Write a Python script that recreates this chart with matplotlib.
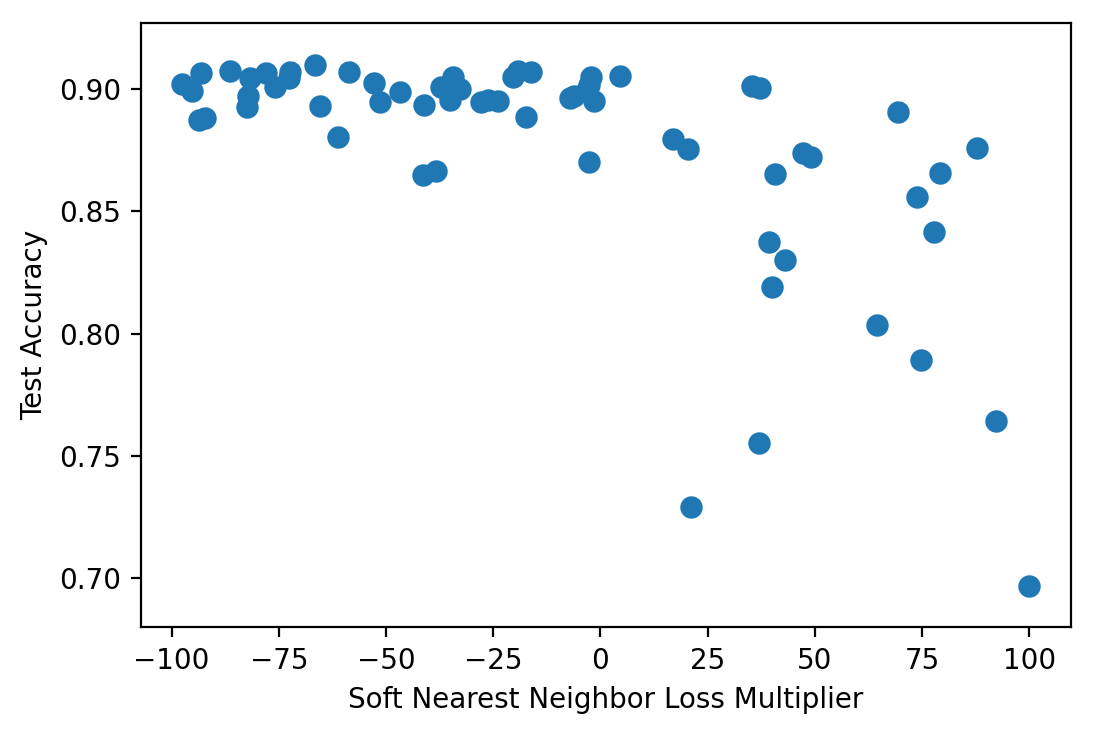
import matplotlib
matplotlib.use("Agg")
import matplotlib.pyplot as plt

multiplier = [
    -97.5, -95.3, -93.2, -93.6, -92.1, -86.3, -81.8, -78.1, -82.1, -82.5,
    -75.8, -72.5, -72.7, -66.6, -65.5, -61.2, -58.6, -52.8, -51.5, -46.8,
    -41.2, -41.4, -38.4, -37.3, -34.4, -35.2, -32.8,
    -27.9, -26.2, -23.9, -20.4, -19.2, -16.2, -17.4,
    -7.1, -6.2, -3.2, -2.6, -2.2, -1.5, -2.6, 4.55,
    16.8, 20.3, 21.0, 35.3, 37.1, 36.9, 39.4, 40.1, 40.7, 43.1, 47.3, 49.1,
    64.5, 69.3, 73.8, 74.7, 77.7, 79.1, 87.8, 92.1, 99.8,
]
accuracy = [
    0.9020, 0.8990, 0.9065, 0.8872, 0.8881, 0.9074, 0.9046, 0.9066, 0.8969, 0.8926,
    0.9009, 0.9069, 0.9044, 0.9097, 0.8930, 0.8804, 0.9068, 0.9025, 0.8947, 0.8988,
    0.8935, 0.8647, 0.8665, 0.9006, 0.9050, 0.8956, 0.9000,
    0.8946, 0.8955, 0.8952, 0.9050, 0.9071, 0.9068, 0.8884,
    0.8964, 0.8972, 0.8995, 0.9015, 0.9050, 0.8952, 0.8700, 0.9053,
    0.8796, 0.8754, 0.7290, 0.9012, 0.9003, 0.7552, 0.8373, 0.8189, 0.8651, 0.8300, 0.8737, 0.8723,
    0.8034, 0.8905, 0.8557, 0.7891, 0.8414, 0.8655, 0.8758, 0.7642, 0.6969,
]

x_ticks = [-100, -75, -50, -25, 0, 25, 50, 75, 100]
y_ticks = [0.70, 0.75, 0.80, 0.85, 0.90]

fig = plt.figure(figsize=(5.47, 3.67), dpi=200)
fig.subplots_adjust(left=0.1286, right=0.979, top=0.969, bottom=0.1454)
ax = fig.add_subplot(111)
ax.scatter(multiplier, accuracy, s=50, color="#1f77b4")
ax.set_xlim(-107.2, 109.7)
ax.set_ylim(0.680, 0.927)
ax.set_xticks(x_ticks)
ax.set_yticks(y_ticks)
ax.set_yticklabels([f"{v:.2f}" for v in y_ticks])
ax.set_xlabel("Soft Nearest Neighbor Loss Multiplier")
ax.set_ylabel("Test Accuracy")
fig.savefig("out.png", dpi=200)
